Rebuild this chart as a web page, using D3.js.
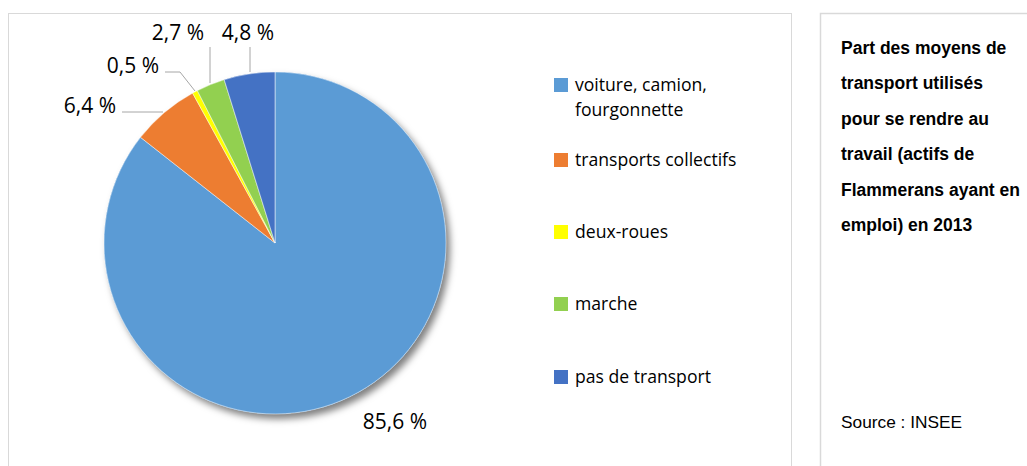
<!DOCTYPE html>
<html><head><meta charset="utf-8">
<script src="https://cdn.jsdelivr.net/npm/d3@7"></script>
<style>body{margin:0;background:#fff;} svg{display:block;}</style>
</head><body>
<svg id="c" width="1027" height="466"></svg>
<script>
const categories = ["voiture, camion, fourgonnette", "transports collectifs", "deux-roues", "marche", "pas de transport"];
const values = [85.6, 6.4, 0.5, 2.7, 4.8];
const labels = ["85,6 %", "6,4 %", "0,5 %", "2,7 %", "4,8 %"];
const colors = ["#5B9BD5", "#ED7D31", "#FFFF00", "#92D050", "#4472C4"];
const titleLines = ["Part des moyens de", "transport utilisés", "pour se rendre au", "travail (actifs de", "Flammerans ayant en", "emploi) en 2013"];
const source = "Source : INSEE";

const svg = d3.select("#c");
const defs = svg.append("defs");
const f = defs.append("filter").attr("id","sh").attr("x","-20%").attr("y","-20%").attr("width","140%").attr("height","140%");
f.append("feDropShadow").attr("dx",4).attr("dy",5).attr("stdDeviation",3.5).attr("flood-color","#000").attr("flood-opacity",0.5);

// boxes
svg.append("rect").attr("x",8.5).attr("y",13.5).attr("width",783).attr("height",470).attr("fill","#fff").attr("stroke","#d9d9d9").attr("stroke-width",1);
svg.append("rect").attr("x",820.5).attr("y",13.5).attr("width",220).attr("height",470).attr("fill","#fff").attr("stroke","#d9d9d9").attr("stroke-width",1.5);

const cx = 275, cy = 243, r = 171;
const pie = d3.pie().sort(null).value(d => d)(values);
const arc = d3.arc().innerRadius(0).outerRadius(r);
const g = svg.append("g").attr("transform",`translate(${cx},${cy})`);
g.append("g").attr("filter","url(#sh)").selectAll("path").data(pie).join("path")
  .attr("d",arc).attr("fill",(d,i)=>colors[i]);
g.append("g").selectAll("path").data(pie).join("path")
  .attr("d",arc).attr("fill",(d,i)=>colors[i]).attr("stroke","#fff").attr("stroke-width",0.5);

// labels
const font = "'Open Sans', 'Noto Sans', sans-serif";
const labelPos = [
  {x:395, y:429, anchor:"middle", line:null},
  {x:90, y:113, anchor:"middle", line:[[122,112],[163,112]]},
  {x:133, y:73, anchor:"middle", line:[[165,72],[180,72],[195,91]]},
  {x:178, y:40, anchor:"middle", line:[[210,47],[210,83]]},
  {x:248, y:40, anchor:"middle", line:[[250,47],[250,72]]}
];
labelPos.forEach((p,i)=>{
  svg.append("text").attr("x",p.x).attr("y",p.y).attr("text-anchor",p.anchor)
    .attr("font-family",font).attr("font-size",21).attr("fill","#000").text(labels[i]);
  if(p.line){
    svg.append("path").attr("d",d3.line()(p.line)).attr("fill","none").attr("stroke","#a6a6a6").attr("stroke-width",1);
  }
});

// legend
const legY = [85, 160, 232, 304, 377];
const legend = svg.append("g");
categories.forEach((c,i)=>{
  legend.append("rect").attr("x",554).attr("y",legY[i]-7).attr("width",14).attr("height",14).attr("fill",colors[i]);
  const t = legend.append("text").attr("x",575).attr("y",legY[i]+6).attr("font-family",font).attr("font-size",17.6).attr("fill","#000");
  if(i===0){
    t.append("tspan").attr("x",575).text("voiture, camion,");
    t.append("tspan").attr("x",575).attr("dy",25).text("fourgonnette");
  } else t.text(c);
});

// right text
const tf = "'Liberation Sans', Arial, sans-serif";
titleLines.forEach((l,i)=>{
  svg.append("text").attr("x",841).attr("y",54+i*35.4).attr("font-family",tf).attr("font-weight","bold")
    .attr("font-size",17.5).attr("fill","#000").text(l);
});
svg.append("text").attr("x",841).attr("y",428).attr("font-family",tf).attr("font-size",17.3).attr("fill","#000").text(source);
</script>
</body></html>
